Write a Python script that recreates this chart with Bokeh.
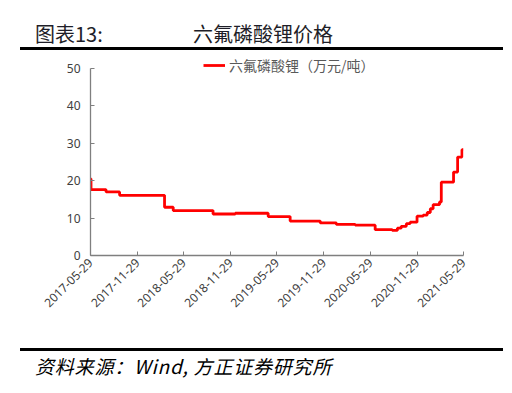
from datetime import datetime
from math import pi
from bokeh.plotting import figure
from bokeh.layouts import column
from bokeh.models import FixedTicker, DatetimeTickFormatter, Legend, LegendItem, Div
from bokeh.embed import file_html
from bokeh.resources import INLINE

# ---- data ----
dates = ["2017-05-29", "2017-05-31", "2017-07-29", "2017-09-20", "2018-03-15", "2018-04-18",
         "2018-09-21", "2018-12-17", "2019-04-25", "2019-07-20", "2019-11-15", "2020-01-17",
         "2020-03-31", "2020-06-17", "2020-08-23", "2020-09-12", "2020-09-27", "2020-10-17",
         "2020-11-01", "2020-11-28", "2020-12-22", "2021-01-07", "2021-01-19", "2021-01-30",
         "2021-02-24", "2021-03-03", "2021-04-20", "2021-05-06", "2021-05-23", "2021-05-29"]
prices = [20.5, 17.6, 17.0, 16.1, 12.9, 12.0,
          11.1, 11.3, 10.4, 9.2, 8.7, 8.3,
          8.1, 6.9, 6.7, 7.3, 7.8, 8.5,
          8.9, 10.5, 10.8, 11.5, 12.5, 13.6,
          14.3, 19.6, 22.3, 26.3, 28.3, 28.3]
tick_labels = ["2017-05-29", "2017-11-29", "2018-05-29", "2018-11-29", "2019-05-29",
               "2019-11-29", "2020-05-29", "2020-11-29", "2021-05-29"]
y_ticks = [0, 10, 20, 30, 40, 50]
series_name = "六氟磷酸锂（万元/吨）"
title_left = "图表13:"
title_main = "六氟磷酸锂价格"
source_text = "资料来源：Wind, 方正证券研究所"

x = [datetime.strptime(d, "%Y-%m-%d") for d in dates]
tick_dt = [datetime.strptime(d, "%Y-%m-%d") for d in tick_labels]
tick_ms = [(t - datetime(1970, 1, 1)).total_seconds() * 1000 for t in tick_dt]

CJK = "Noto Sans CJK SC"
W = 504

header = Div(width=W, height=52, text=(
    f'<div style="position:relative;width:{W}px;height:52px;margin:0;padding:0;">'
    f'<span style="position:absolute;left:35px;top:24px;font-family:\'{CJK}\';font-size:20px;'
    f'line-height:20px;color:#1e1e28;white-space:nowrap;">{title_left}</span>'
    f'<span style="position:absolute;left:193px;top:24px;font-family:\'{CJK}\';font-size:20px;'
    f'line-height:20px;color:#1e1e28;white-space:nowrap;">{title_main}</span>'
    f'<div style="position:absolute;left:20px;top:47px;width:483px;height:3px;background:#000;"></div>'
    f'</div>'), styles={"margin": "0", "padding": "0"})

p = figure(width=W, height=288, x_axis_type="datetime",
           x_range=(tick_dt[0], tick_dt[-1]), y_range=(0, 53.2),
           output_backend="svg", toolbar_location=None,
           min_border_left=90, min_border_right=41, min_border_top=4, min_border_bottom=85,
           outline_line_color=None)
p.grid.visible = False
r = p.step(x=x, y=prices, mode="after", line_color="#ff0000", line_width=2.8)

p.xaxis.ticker = FixedTicker(ticks=tick_ms)
p.xaxis.formatter = DatetimeTickFormatter(days="%Y-%m-%d", months="%Y-%m-%d", years="%Y-%m-%d",
                                          hours="%Y-%m-%d", minutes="%Y-%m-%d")
p.xaxis.major_label_orientation = pi / 4
p.yaxis.ticker = FixedTicker(ticks=y_ticks)
p.yaxis.bounds = (0, 50)
for ax in (p.xaxis, p.yaxis):
    ax.axis_line_color = "#7f7f7f"
    ax.axis_line_width = 1.3
    ax.major_tick_line_color = "#7f7f7f"
    ax.major_tick_in = 4
    ax.major_tick_out = 0
    ax.minor_tick_line_color = None
    ax.major_label_text_font = "Noto Sans"
    ax.major_label_text_font_size = "12px"
    ax.major_label_text_color = "#404040"
p.yaxis.major_label_standoff = 10
p.xaxis.major_label_standoff = 5

legend = Legend(items=[LegendItem(label=series_name, renderers=[r])],
                location=(113, 180), orientation="horizontal",
                border_line_color=None, background_fill_alpha=0,
                padding=0, margin=0, glyph_width=22, glyph_height=16, label_height=16,
                label_text_font=CJK, label_text_font_size="14px", label_text_color="#595959",
                label_standoff=4)
p.add_layout(legend, "center")

footer = Div(width=W, height=45, text=(
    f'<div style="position:relative;width:{W}px;height:45px;margin:0;padding:0;">'
    f'<div style="position:absolute;left:20px;top:8px;width:483px;height:3px;background:#000;"></div>'
    f'<span style="position:absolute;left:35px;top:16px;font-family:\'{CJK}\';font-size:19px;'
    f'font-style:italic;letter-spacing:0.8px;line-height:19px;color:#000;white-space:nowrap;">{source_text}</span>'
    f'</div>'), styles={"margin": "0", "padding": "0"})

layout = column(header, p, footer, spacing=0)
open("out.html", "w").write(file_html(layout, INLINE))
